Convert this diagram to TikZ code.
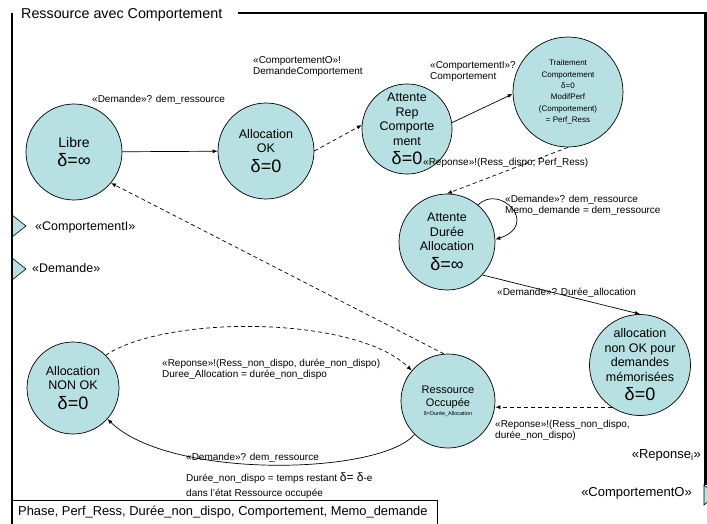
\documentclass[tikz,border=0pt]{standalone}
\usepackage{fontspec}
\setmainfont{Liberation Sans}
\usetikzlibrary{arrows.meta}
\definecolor{statefill}{RGB}{183,224,226}
\newcommand{\bigd}{\fontsize{18}{20}\selectfont}

\begin{document}
\begin{tikzpicture}[x=1pt,y=-1pt,
  state/.style={circle,draw=black,line width=0.7pt,fill=statefill,inner sep=0pt,
    align=center,font=\fontsize{12.5}{14.5}\selectfont},
  lbl/.style={font=\fontsize{10}{11}\selectfont,inner sep=0pt,align=left,anchor=west},
  portlbl/.style={font=\fontsize{12.5}{14}\selectfont,inner sep=0pt},
  tr/.style={line width=0.7pt,-{Latex[length=5pt,width=4pt]}},
  dtr/.style={tr,dash pattern=on 4pt off 3pt},
  frameline/.style={line width=2.2pt},
  port/.style={draw=black,line width=0.6pt,fill=statefill}
]
\useasboundingbox (0,0) rectangle (707,524);

% ports on the frame
\draw[port] (12,215) -- (26,226) -- (12,237) -- cycle;
\draw[port] (12,258) -- (26,269) -- (12,280) -- cycle;
\draw[port] (704,485) -- (716,495) -- (704,505) -- cycle;

% frame of the component
\draw[frameline] (238,13) -- (705.5,13) -- (705.5,485);
\draw[frameline] (12,13) -- (12,524);
\node[anchor=west,inner sep=0pt,font=\fontsize{14.3}{16}\selectfont] (title) at (21,15) {Ressource avec Comportement};

% variables box
\draw[line width=0.8pt] (12,500) -- (437,500) -- (437,524);
\node[anchor=west,inner sep=0pt,font=\fontsize{12.9}{15}\selectfont] (vars) at (18,512)
  {Phase, Perf\_Ress, Durée\_non\_dispo, Comportement, Memo\_demande};

% port labels
\node[portlbl,anchor=west] (pci) at (35,227) {«ComportementI»};
\node[portlbl,anchor=west] (pdem) at (32,268) {«Demande»};
\node[portlbl,anchor=east,font=\fontsize{13}{15}\selectfont] (prep) at (701,455) {«Reponse\textsubscript{i}»};
\node[portlbl,anchor=east,font=\fontsize{13}{15}\selectfont] (pco) at (692,493) {«ComportementO»};

% states
\node[state,minimum size=96pt,font=\fontsize{14}{17}\selectfont] (libre) at (74,152) {Libre\\[2pt]{\bigd δ=∞}};
\node[state,minimum size=96pt] (allocok) at (266,151) {Allocation\\OK\\[5pt]{\bigd δ=0}};
\node[state,minimum size=90pt] (attrep) at (407,129) {Attente\\Rep\\Comporte\\ment\\[5pt]{\bigd δ=0}};
\node[state,minimum size=110pt,font=\fontsize{8}{11.3}\selectfont] (trait) at (568,92)
  {Traitement\\Comportement\\δ=0\\ModifPerf\\(Comportement)\\= Perf\_Ress};
\node[state,minimum size=96pt] (attdur) at (447,242) {Attente\\Durée\\Allocation\\[5pt]{\bigd δ=∞}};
\node[state,minimum size=96pt] (allocnok) at (640,365) {allocation\\non OK pour\\demandes\\mémorisées\\[5pt]{\bigd δ=0}};
\node[state,minimum size=94pt,font=\fontsize{11}{13}\selectfont] (ress) at (448,401)
  {Ressource\\Occupée\\[-4pt]{\fontsize{5.5}{6}\selectfont δ=Durée\_Allocation}};
\node[state,minimum size=92pt] (nonok) at (73,388) {Allocation\\NON OK\\[5pt]{\bigd δ=0}};

% transitions
\draw[tr] (libre) -- (allocok);
\draw[dtr] (allocok.east) -- (attrep.175);
\draw[tr] (attrep.8) -- (trait.182);
\draw[dtr] (trait.south) -- (attdur.north);
\draw[tr] (attdur.50) .. controls (500,183) and (540,225) .. (attdur.3);
\draw[tr] (attdur.-43) -- (allocnok.north);
\draw[dtr] (allocnok.236) -- (allocnok.236 -| ress.east);
\draw[dtr] (ress.95) -- (libre.-40);
\draw[dtr] (nonok.45) .. controls (165,315) and (355,315) .. (ress.140);
\draw[tr] (ress.-135) .. controls (380,475) and (170,480) .. (nonok.-42);

% transition labels
\node[lbl] (l1) at (92,100) {«Demande»? dem\_ressource};
\node[lbl] (l2) at (253,67) {«ComportementO»!\\DemandeComportement};
\node[lbl] (l3) at (430,72) {«ComportementI»?\\Comportement};
\node[lbl] (l4) at (423,163) {«Reponse»!(Ress\_dispo, Perf\_Ress)};
\node[lbl] (l5) at (505,205) {«Demande»? dem\_ressource\\Memo\_demande = dem\_ressource};
\node[lbl] (l6) at (497,293) {«Demande»? Durée\_allocation};
\node[lbl] (l7) at (495,430) {«Reponse»!(Ress\_non\_dispo,\\durée\_non\_dispo)};
\node[lbl] (l8) at (162,369) {«Reponse»!(Ress\_non\_dispo, durée\_non\_dispo)\\Duree\_Allocation = durée\_non\_dispo};
\node[lbl] (l9) at (186,458) {«Demande»? dem\_ressource};
\node[lbl,font=\fontsize{10}{15}\selectfont] (l10) at (186,486)
  {Durée\_non\_dispo = temps restant {\fontsize{12}{15}\selectfont δ= δ}-e\\dans l'état Ressource occupée};
\end{tikzpicture}
\end{document}
